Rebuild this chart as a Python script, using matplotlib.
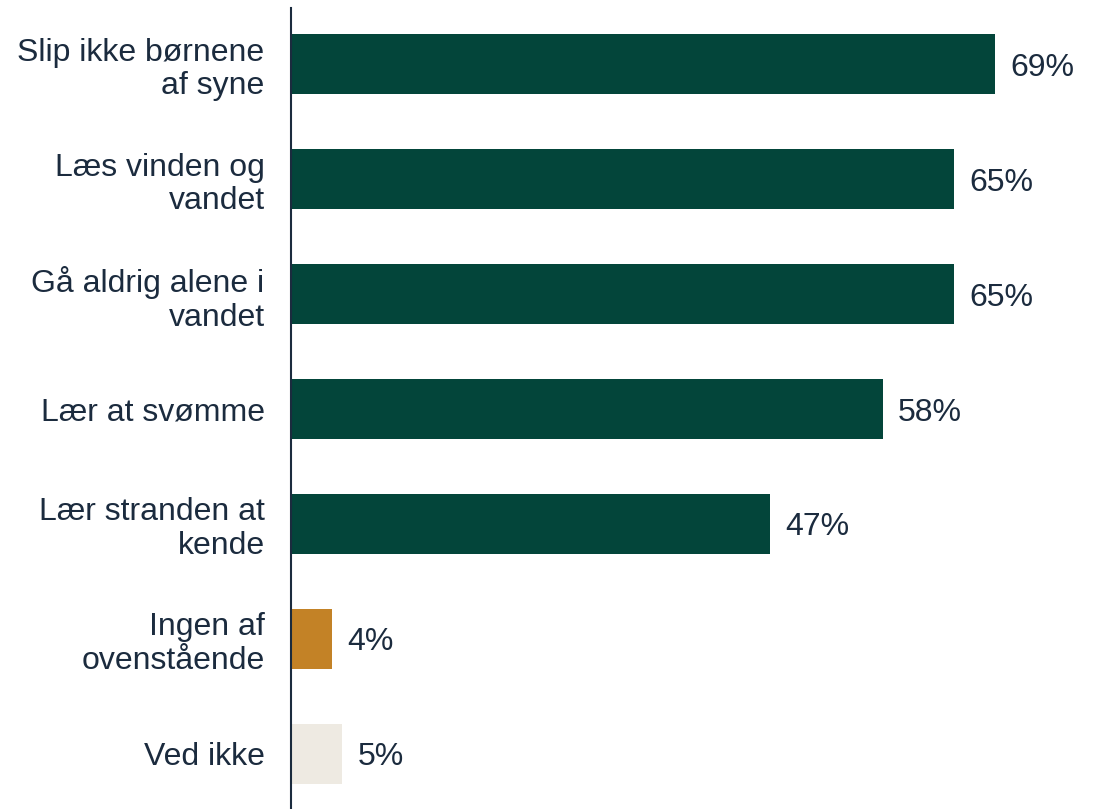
import matplotlib.pyplot as plt

plt.rcParams["font.family"] = ["Liberation Sans", "DejaVu Sans"]

labels = [
    "Slip ikke børnene\naf syne",
    "Læs vinden og\nvandet",
    "Gå aldrig alene i\nvandet",
    "Lær at svømme",
    "Lær stranden at\nkende",
    "Ingen af\novenstående",
    "Ved ikke",
]
values = [69, 65, 65, 58, 47, 4, 5]
colors = ["#03453A"] * 5 + ["#C38226", "#EEEAE2"]

text_color = "#1B2B3E"

fig = plt.figure(figsize=(11.04, 8.09), dpi=100)
ax = fig.add_axes([291 / 1104, 0, 1 - 291 / 1104, 801 / 809])

pos = list(range(len(labels)))
ax.barh(pos, values, height=0.52, color=colors)
ax.set_ylim(len(labels) - 0.52, -0.49)
ax.set_xlim(0, 79.7)

for p, v in zip(pos, values):
    ax.text(v + 1.5, p, f"{v}%", va="center_baseline", ha="left", fontsize=23, color=text_color)

ax.set_yticks(pos)
ax.set_yticklabels(labels, fontsize=23, color=text_color, linespacing=1.15)
ax.tick_params(axis="y", length=0, pad=19)
ax.set_xticks([])

for s in ["top", "right", "bottom"]:
    ax.spines[s].set_visible(False)
ax.spines["left"].set_color(text_color)
ax.spines["left"].set_linewidth(1.5)

fig.savefig("out.png", dpi=100)
